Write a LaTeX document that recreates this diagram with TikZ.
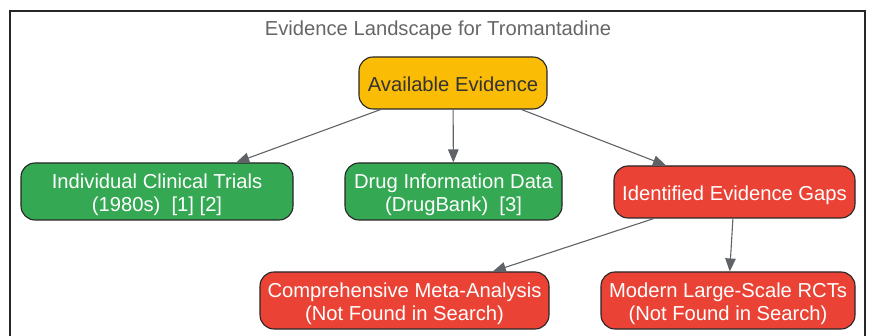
\documentclass[tikz,border=0pt]{standalone}
\usepackage{fontspec}
\setmainfont{Liberation Sans}
\usetikzlibrary{arrows.meta}
\definecolor{cyellow}{HTML}{FBBC05}
\definecolor{cgreen}{HTML}{34A853}
\definecolor{cred}{HTML}{EA4335}
\definecolor{cedge}{HTML}{5F6368}
\definecolor{ctext}{HTML}{333333}
\definecolor{ctitle}{HTML}{666666}
\newcommand\gvs{\rule[-0.212em]{0pt}{1.117em}}
\newcommand\gvt{\rule[-0.212em]{0pt}{1.25em}}
\tikzset{
  box/.style={draw=black!85, line width=1.1pt, rounded corners=14pt, inner sep=0pt, align=center,
    font=\fontsize{20.2}{23.2}\selectfont},
  ybox/.style={box, fill=cyellow, text=ctext},
  gbox/.style={box, fill=cgreen, text=white},
  rbox/.style={box, fill=cred, text=white},
  edge/.style={draw=cedge, line width=1.1pt, -{Triangle[length=13pt,width=10.5pt]}},
}
\begin{document}
\begin{tikzpicture}[x=1pt,y=-1pt]
\useasboundingbox (0,0) rectangle (869,336);
\draw[line width=1.3pt, draw=black!85] (10,345) -- (10,11) -- (865,11) -- (865,345);
\node[font=\fontsize{20.2}{24}\selectfont, text=ctitle] (title) at (438,29) {\gvs Evidence Landscape for Tromantadine};
\node[ybox, minimum width=188pt, minimum height=52pt] (avail) at (453,83) {\gvt Available Evidence};
\node[gbox, minimum width=272pt, minimum height=57pt] (ict) at (157,191.5) {\gvt Individual Clinical Trials\\\gvs(1980s)\ \ [1] [2]};
\node[gbox, minimum width=217pt, minimum height=57pt] (drug) at (453.5,191.5) {\gvt Drug Information Data\\\gvs(DrugBank)\ \ [3]};
\node[rbox, minimum width=241pt, minimum height=52pt] (gaps) at (734.5,192) {\gvt Identified Evidence Gaps};
\node[rbox, minimum width=289pt, minimum height=57pt] (meta) at (404.5,300.5) {\gvt Comprehensive Meta-Analysis\\\gvs(Not Found in Search)};
\node[rbox, minimum width=254pt, minimum height=57pt] (rct) at (728,300.5) {\gvt Modern Large-Scale RCTs\\\gvs(Not Found in Search)};
\draw[edge] (avail) -- (ict);
\draw[edge] (avail) -- (drug);
\draw[edge] (avail) -- (gaps);
\draw[edge] (gaps) -- (meta);
\draw[edge] (gaps) -- (rct);
\end{tikzpicture}
\end{document}
